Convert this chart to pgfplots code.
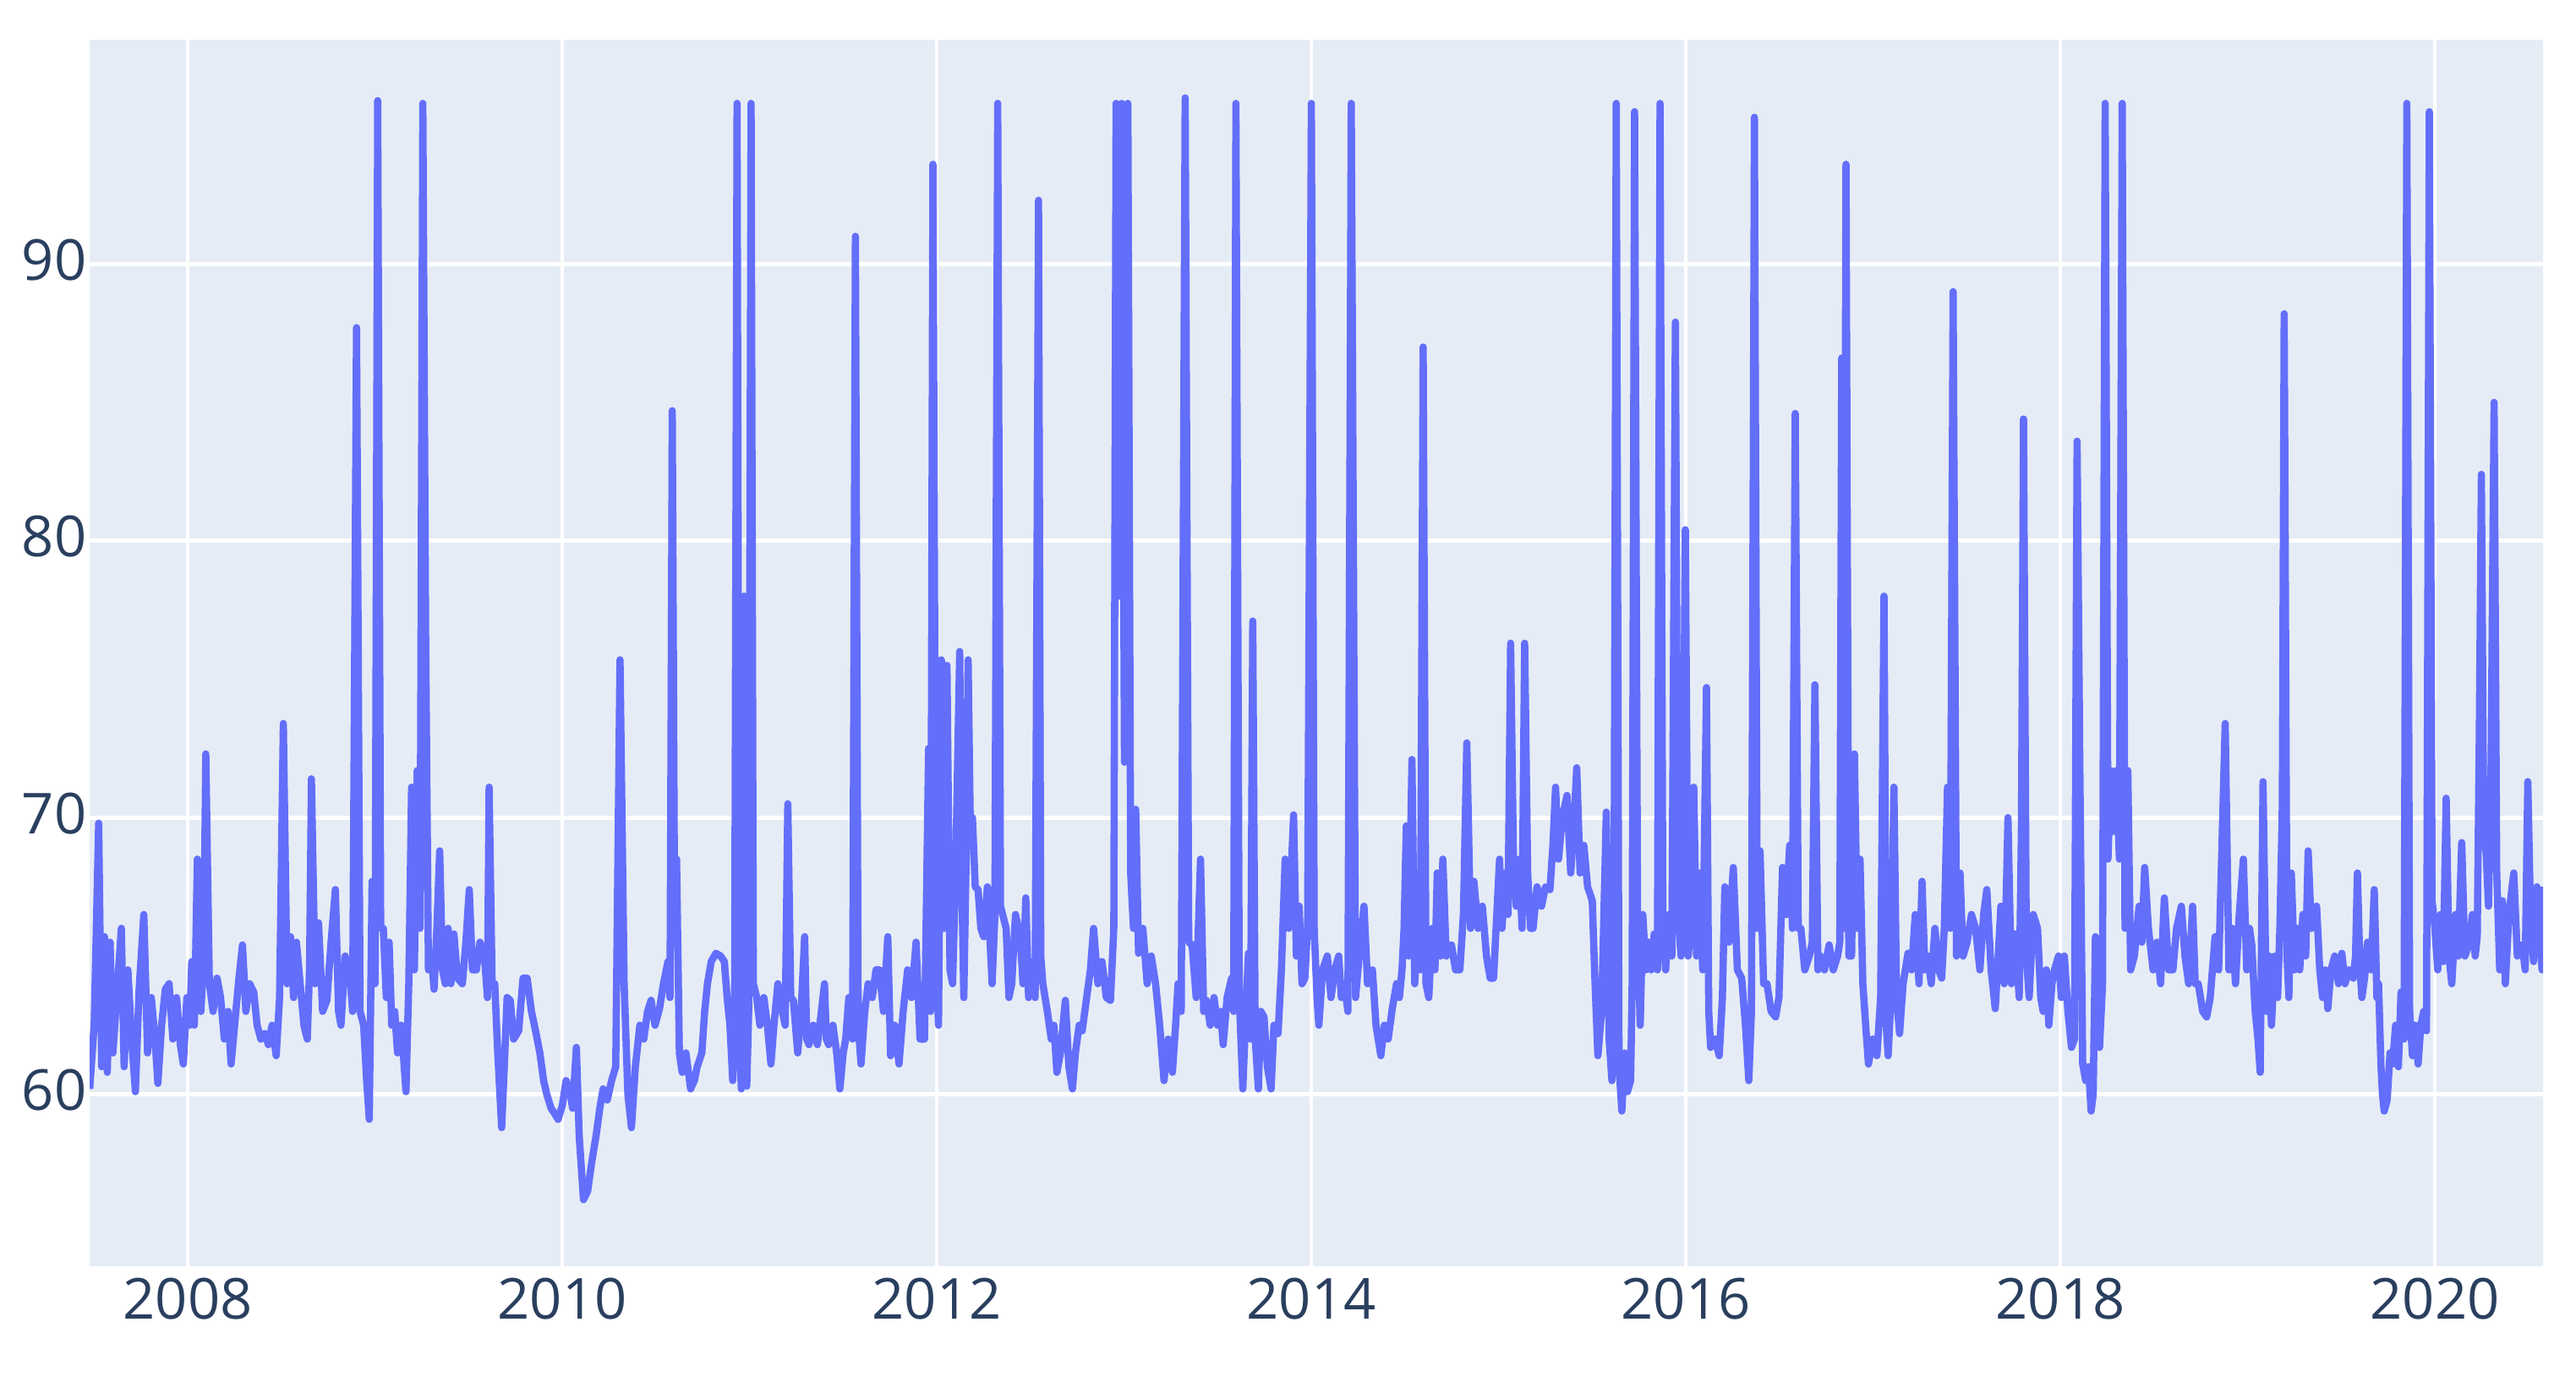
\documentclass[border=0pt]{standalone}
\usepackage{fontspec}
\setmainfont{Open Sans}
\usepackage{pgfplots}
\pgfplotsset{compat=1.18}
\definecolor{bgc}{HTML}{E5ECF6}
\definecolor{linec}{HTML}{636EFA}
\definecolor{tickc}{HTML}{2A3F5F}
\begin{document}
\begin{tikzpicture}
\useasboundingbox (-27.3bp,-38.4bp) rectangle (756.7bp,385.4bp);
\begin{axis}[
  at={(0,0)}, anchor=south west, scale only axis,
  width=746.7bp, height=373.3bp,
  xmin=2007.476, xmax=2020.578, ymin=53.8, ymax=98.1,
  axis background/.style={fill=bgc},
  axis line style={draw=none},
  tick style={draw=none},
  grid=major,
  major grid style={white, line width=1.2bp},
  xtick={2008,2010,2012,2014,2016,2018,2020},
  ytick={60,70,80,90},
  ticklabel style={font=\fontsize{17.2bp}{20bp}\selectfont, text=tickc},
  yticklabel style={inner xsep=0.8bp, yshift=1.3bp},
  /pgf/number format/.cd, 1000 sep={}, assume math mode=true,
]
\addplot[linec, line width=2.2bp, line join=round, mark=none] table[x=t, y=v] {
t v
2007.476 60.2
2007.500 62.5
2007.524 69.8
2007.540 61.0
2007.555 65.7
2007.570 60.8
2007.585 65.5
2007.600 61.5
2007.620 63.5
2007.645 66.0
2007.660 61.0
2007.680 64.5
2007.700 62.0
2007.720 60.1
2007.740 63.8
2007.765 66.5
2007.785 61.5
2007.805 63.5
2007.825 62.0
2007.840 60.4
2007.860 62.5
2007.880 63.8
2007.900 64.0
2007.920 62.0
2007.940 63.5
2007.960 61.8
2007.976 61.1
2007.995 63.5
2008.010 62.5
2008.021 64.8
2008.035 62.5
2008.051 68.5
2008.070 63.0
2008.085 65.0
2008.096 72.3
2008.115 64.0
2008.135 63.0
2008.156 64.2
2008.175 63.5
2008.195 62.0
2008.215 63.0
2008.231 61.1
2008.250 62.5
2008.270 64.0
2008.292 65.4
2008.310 63.0
2008.330 64.0
2008.352 63.7
2008.370 62.5
2008.390 62.0
2008.412 62.2
2008.430 61.8
2008.450 62.5
2008.472 61.4
2008.490 63.5
2008.510 73.4
2008.530 64.0
2008.548 65.7
2008.565 63.5
2008.580 65.5
2008.600 64.0
2008.620 62.5
2008.638 62.0
2008.650 64.5
2008.660 71.4
2008.680 64.0
2008.698 66.2
2008.720 63.0
2008.743 63.4
2008.765 65.5
2008.788 67.4
2008.805 63.0
2008.818 62.5
2008.840 65.0
2008.864 64.5
2008.880 63.0
2008.901 87.7
2008.920 63.0
2008.939 62.5
2008.955 60.5
2008.969 59.1
2008.984 67.7
2009.000 64.0
2009.014 95.9
2009.030 66.0
2009.044 66.0
2009.060 63.5
2009.075 65.5
2009.089 62.5
2009.105 63.0
2009.120 61.5
2009.140 62.5
2009.165 60.1
2009.180 64.0
2009.195 71.1
2009.210 64.5
2009.225 71.7
2009.240 66.0
2009.255 95.8
2009.270 76.6
2009.285 64.5
2009.300 65.1
2009.315 63.8
2009.330 66.0
2009.345 68.8
2009.360 64.5
2009.375 64.0
2009.390 66.0
2009.405 64.0
2009.421 65.8
2009.440 64.2
2009.466 64.0
2009.485 65.5
2009.503 67.4
2009.520 64.5
2009.541 64.5
2009.560 65.5
2009.586 64.8
2009.600 63.5
2009.609 71.1
2009.625 64.0
2009.639 64.0
2009.655 61.5
2009.676 58.8
2009.690 61.0
2009.705 63.5
2009.722 63.4
2009.740 62.0
2009.767 62.3
2009.790 64.2
2009.812 64.2
2009.835 63.0
2009.857 62.3
2009.880 61.5
2009.900 60.5
2009.917 60.0
2009.940 59.5
2009.960 59.3
2009.977 59.1
2010.000 59.6
2010.020 60.5
2010.038 60.2
2010.055 59.5
2010.075 61.7
2010.090 58.5
2010.113 56.2
2010.135 56.5
2010.158 57.6
2010.180 58.5
2010.200 59.5
2010.218 60.2
2010.240 59.8
2010.263 60.5
2010.285 61.0
2010.308 75.7
2010.330 64.0
2010.350 60.0
2010.369 58.8
2010.390 61.0
2010.414 62.5
2010.435 62.0
2010.455 63.0
2010.474 63.4
2010.495 62.5
2010.519 63.1
2010.540 64.0
2010.564 64.8
2010.575 63.5
2010.587 84.7
2010.600 65.5
2010.610 68.5
2010.625 61.5
2010.640 60.8
2010.660 61.5
2010.685 60.2
2010.705 60.5
2010.720 61.0
2010.745 61.5
2010.760 63.0
2010.775 64.0
2010.795 64.8
2010.820 65.1
2010.845 65.0
2010.865 64.8
2010.880 63.5
2010.895 62.5
2010.910 60.5
2010.920 63.0
2010.933 95.8
2010.945 62.0
2010.956 60.2
2010.971 78.0
2010.985 60.3
2010.995 63.0
2011.008 95.8
2011.020 64.0
2011.038 63.5
2011.055 62.5
2011.076 63.5
2011.095 62.5
2011.114 61.1
2011.130 62.5
2011.151 64.0
2011.175 63.0
2011.190 62.5
2011.204 70.5
2011.220 63.5
2011.234 63.4
2011.257 61.5
2011.275 63.0
2011.294 65.7
2011.305 62.0
2011.317 61.8
2011.340 62.5
2011.362 61.8
2011.380 62.8
2011.400 64.0
2011.410 62.0
2011.422 61.8
2011.445 62.5
2011.465 61.5
2011.482 60.2
2011.500 61.5
2011.513 62.0
2011.530 63.5
2011.550 62.0
2011.565 91.0
2011.580 62.5
2011.595 61.1
2011.615 63.0
2011.633 64.0
2011.655 63.5
2011.675 64.5
2011.693 64.5
2011.715 63.0
2011.738 65.7
2011.753 61.4
2011.775 62.5
2011.798 61.1
2011.820 63.0
2011.844 64.5
2011.865 63.5
2011.889 65.5
2011.910 62.0
2011.934 62.0
2011.956 72.5
2011.967 63.0
2011.979 93.6
2011.995 65.0
2012.009 62.5
2012.024 75.7
2012.040 66.0
2012.054 75.5
2012.070 64.5
2012.084 64.0
2012.100 68.0
2012.122 76.0
2012.135 67.0
2012.144 63.5
2012.160 70.0
2012.167 75.7
2012.180 69.0
2012.190 70.0
2012.205 67.5
2012.220 67.4
2012.235 66.0
2012.250 65.7
2012.270 67.5
2012.295 64.0
2012.310 66.5
2012.325 95.8
2012.340 66.8
2012.370 66.0
2012.385 63.5
2012.400 64.0
2012.420 66.5
2012.445 65.7
2012.460 64.0
2012.475 67.1
2012.490 63.5
2012.506 64.8
2012.525 63.5
2012.543 92.3
2012.555 65.0
2012.566 64.0
2012.590 63.0
2012.611 62.0
2012.625 62.5
2012.641 60.8
2012.660 61.5
2012.686 63.4
2012.705 61.0
2012.724 60.2
2012.740 61.5
2012.760 62.5
2012.776 62.3
2012.800 63.5
2012.820 64.5
2012.837 66.0
2012.860 64.0
2012.882 64.8
2012.905 63.5
2012.927 63.4
2012.945 66.0
2012.957 95.8
2012.972 78.0
2012.987 95.8
2013.002 72.0
2013.020 95.8
2013.035 68.0
2013.050 66.0
2013.062 70.3
2013.077 65.1
2013.100 66.0
2013.123 64.0
2013.145 65.0
2013.168 64.0
2013.190 62.5
2013.213 60.5
2013.235 62.0
2013.258 60.8
2013.275 62.5
2013.288 64.0
2013.305 63.0
2013.326 96.0
2013.345 65.5
2013.363 65.4
2013.385 63.5
2013.408 68.5
2013.425 63.0
2013.439 63.4
2013.460 62.5
2013.480 63.5
2013.499 62.5
2013.515 63.0
2013.529 61.8
2013.550 63.5
2013.574 64.2
2013.585 63.0
2013.597 95.8
2013.615 63.5
2013.634 60.2
2013.650 63.0
2013.664 65.1
2013.675 62.0
2013.687 77.1
2013.700 62.0
2013.717 60.2
2013.730 63.0
2013.747 62.8
2013.765 61.0
2013.785 60.2
2013.800 62.5
2013.822 62.2
2013.840 64.5
2013.860 68.5
2013.880 66.0
2013.905 70.1
2013.920 65.0
2013.935 66.8
2013.950 64.0
2013.965 64.2
2013.980 66.0
2014.000 95.8
2014.015 66.0
2014.030 63.5
2014.040 62.5
2014.060 64.5
2014.085 65.0
2014.105 63.5
2014.125 64.5
2014.146 65.0
2014.160 63.5
2014.176 64.0
2014.195 63.0
2014.213 95.8
2014.236 63.5
2014.255 65.0
2014.281 66.8
2014.300 64.0
2014.326 64.5
2014.345 62.5
2014.371 61.4
2014.390 62.5
2014.410 62.0
2014.432 63.1
2014.455 64.0
2014.470 63.5
2014.484 64.5
2014.495 66.0
2014.507 69.7
2014.520 65.0
2014.537 72.1
2014.552 64.0
2014.567 66.8
2014.582 64.5
2014.597 87.0
2014.612 64.0
2014.627 63.5
2014.645 66.0
2014.660 64.5
2014.672 68.0
2014.690 65.0
2014.702 68.5
2014.720 65.0
2014.748 65.4
2014.770 64.5
2014.793 64.5
2014.812 66.5
2014.830 72.7
2014.850 66.0
2014.868 67.7
2014.890 66.0
2014.913 66.8
2014.935 65.0
2014.955 64.2
2014.973 64.2
2014.990 66.5
2015.005 68.5
2015.018 66.0
2015.035 68.0
2015.050 66.5
2015.064 76.3
2015.080 68.0
2015.094 66.8
2015.110 68.5
2015.125 66.0
2015.139 76.3
2015.155 68.0
2015.170 66.0
2015.184 66.0
2015.205 67.5
2015.229 66.8
2015.250 67.5
2015.274 67.4
2015.290 69.0
2015.304 71.1
2015.320 68.5
2015.340 70.0
2015.365 70.8
2015.385 68.0
2015.400 69.5
2015.417 71.8
2015.435 68.0
2015.455 69.0
2015.475 67.5
2015.500 67.0
2015.515 64.0
2015.530 61.4
2015.550 63.0
2015.575 70.2
2015.590 62.0
2015.605 60.5
2015.615 63.0
2015.628 95.8
2015.643 61.0
2015.658 59.4
2015.673 61.5
2015.688 60.1
2015.705 60.5
2015.713 64.0
2015.726 95.5
2015.742 66.0
2015.756 62.5
2015.770 66.5
2015.786 64.5
2015.800 65.5
2015.815 64.5
2015.831 65.8
2015.848 64.5
2015.862 95.8
2015.877 66.0
2015.892 64.5
2015.910 66.5
2015.925 65.0
2015.944 87.9
2015.958 66.5
2015.974 65.0
2015.985 70.0
2015.997 80.4
2016.012 65.0
2016.027 66.0
2016.042 71.1
2016.057 65.0
2016.072 68.0
2016.090 64.5
2016.110 74.7
2016.122 63.0
2016.132 61.7
2016.155 62.0
2016.178 61.4
2016.195 63.5
2016.208 67.5
2016.230 65.5
2016.253 68.2
2016.275 64.5
2016.298 64.2
2016.318 62.5
2016.336 60.5
2016.350 63.0
2016.366 95.3
2016.381 66.0
2016.396 68.8
2016.415 64.0
2016.433 64.0
2016.455 63.0
2016.479 62.8
2016.497 63.5
2016.516 68.2
2016.535 66.5
2016.554 69.0
2016.569 66.0
2016.584 84.6
2016.600 66.0
2016.614 66.0
2016.635 64.5
2016.659 65.0
2016.675 65.5
2016.689 74.8
2016.705 64.5
2016.719 65.0
2016.740 64.5
2016.765 65.4
2016.787 64.5
2016.810 65.0
2016.822 65.5
2016.832 86.6
2016.843 66.0
2016.855 93.6
2016.870 65.0
2016.885 65.0
2016.900 72.3
2016.915 66.0
2016.930 68.5
2016.945 64.0
2016.960 62.5
2016.975 61.1
2016.998 62.0
2017.020 61.4
2017.040 63.5
2017.058 78.0
2017.070 62.5
2017.080 61.4
2017.095 63.5
2017.111 71.1
2017.125 63.5
2017.141 62.2
2017.160 64.0
2017.186 65.1
2017.205 64.5
2017.225 66.5
2017.245 64.0
2017.261 67.7
2017.276 64.5
2017.291 65.0
2017.310 64.0
2017.330 66.0
2017.350 64.5
2017.366 64.2
2017.380 66.0
2017.397 71.1
2017.412 66.0
2017.427 89.0
2017.445 65.0
2017.464 68.0
2017.480 65.0
2017.502 65.5
2017.525 66.5
2017.547 66.0
2017.570 64.5
2017.590 66.5
2017.607 67.4
2017.630 64.5
2017.652 63.1
2017.668 65.0
2017.682 66.8
2017.700 64.0
2017.720 70.0
2017.738 64.0
2017.758 65.8
2017.780 63.5
2017.792 69.7
2017.803 84.4
2017.818 65.0
2017.833 63.5
2017.855 66.5
2017.878 66.0
2017.895 63.5
2017.908 63.0
2017.925 64.5
2017.938 62.5
2017.955 64.0
2017.968 64.5
2017.990 65.0
2018.005 63.5
2018.021 65.0
2018.040 63.0
2018.059 61.7
2018.075 62.0
2018.089 83.6
2018.104 71.7
2018.119 61.1
2018.135 60.5
2018.150 61.0
2018.164 59.4
2018.175 60.0
2018.187 65.7
2018.200 62.0
2018.209 61.7
2018.225 64.0
2018.239 95.8
2018.254 68.5
2018.269 71.7
2018.284 69.5
2018.299 71.7
2018.315 68.5
2018.330 95.8
2018.345 66.0
2018.360 71.7
2018.375 64.5
2018.395 65.0
2018.420 66.8
2018.435 65.5
2018.450 68.2
2018.470 66.0
2018.495 64.5
2018.515 65.5
2018.535 64.0
2018.555 67.1
2018.578 64.5
2018.601 64.5
2018.620 66.0
2018.646 66.8
2018.665 65.0
2018.685 64.0
2018.706 66.8
2018.720 64.0
2018.736 64.0
2018.760 63.0
2018.781 62.8
2018.800 63.5
2018.826 65.7
2018.845 64.5
2018.880 73.4
2018.900 64.5
2018.917 66.0
2018.935 64.0
2018.955 66.5
2018.977 68.5
2018.995 64.5
2019.010 66.0
2019.022 65.4
2019.040 63.0
2019.055 62.0
2019.067 60.8
2019.082 71.3
2019.100 63.0
2019.115 65.0
2019.127 62.5
2019.145 65.0
2019.160 63.5
2019.172 66.0
2019.185 70.4
2019.195 88.2
2019.210 65.0
2019.220 63.5
2019.233 68.0
2019.250 64.5
2019.265 66.0
2019.278 64.5
2019.295 66.5
2019.310 65.0
2019.323 68.8
2019.340 66.0
2019.355 66.5
2019.368 66.8
2019.385 64.5
2019.400 63.5
2019.415 64.5
2019.428 63.1
2019.445 64.5
2019.465 65.0
2019.485 64.0
2019.503 65.1
2019.520 64.0
2019.540 64.5
2019.564 64.2
2019.576 65.0
2019.586 68.0
2019.600 64.5
2019.610 63.5
2019.624 64.2
2019.640 65.5
2019.660 64.5
2019.676 67.4
2019.690 63.5
2019.699 64.0
2019.712 61.0
2019.720 60.0
2019.729 59.4
2019.745 59.8
2019.760 61.5
2019.774 61.1
2019.790 62.5
2019.805 61.0
2019.819 63.7
2019.835 62.0
2019.850 95.8
2019.865 63.0
2019.880 61.4
2019.895 62.5
2019.910 61.1
2019.925 62.5
2019.940 63.0
2019.955 62.3
2019.970 95.5
2019.985 67.0
2020.000 66.0
2020.015 64.5
2020.030 66.5
2020.045 64.8
2020.060 70.7
2020.075 65.0
2020.090 64.0
2020.110 66.5
2020.125 65.0
2020.143 69.1
2020.160 65.0
2020.181 65.4
2020.200 66.5
2020.215 65.0
2020.226 65.7
2020.237 73.0
2020.248 82.4
2020.260 70.0
2020.275 68.5
2020.286 66.8
2020.300 72.0
2020.316 85.0
2020.330 68.0
2020.346 64.5
2020.360 67.0
2020.376 64.0
2020.395 66.5
2020.421 68.0
2020.440 65.0
2020.466 65.4
2020.482 64.5
2020.496 71.3
2020.512 66.0
2020.527 64.8
2020.545 67.5
2020.560 66.0
2020.572 64.5
2020.578 67.5
};
\end{axis}
\end{tikzpicture}
\end{document}
